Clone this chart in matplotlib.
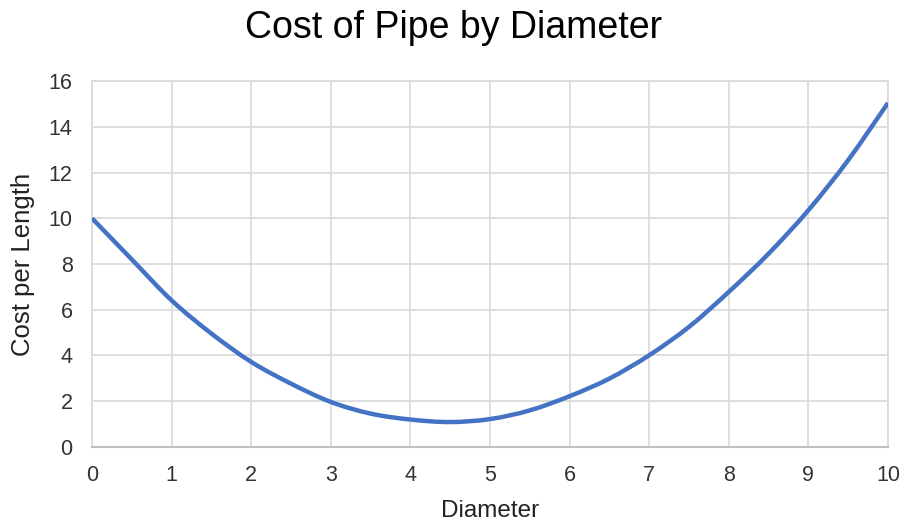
import numpy as np
import matplotlib
matplotlib.use("Agg")
import matplotlib.pyplot as plt
from matplotlib.path import Path
from matplotlib.patches import PathPatch

# values
diameter = [0, 0.5, 1, 1.5, 2, 2.5, 3, 3.5, 4, 4.5, 5,
            5.5, 6, 6.5, 7, 7.5, 8, 8.5, 9, 9.5, 10]
cost = [10.0, 8.2, 6.41, 4.96, 3.72, 2.77, 1.97, 1.46, 1.2, 1.09, 1.22,
        1.6, 2.22, 2.99, 4.01, 5.25, 6.78, 8.45, 10.35, 12.54, 15.04]
x_ticks = list(range(0, 11))
y_ticks = list(range(0, 17, 2))

plt.rcParams['font.family'] = ['Liberation Sans', 'DejaVu Sans']


def smooth_path(xs, ys):
    # cubic bezier through the points (like a "smooth line" in spreadsheets)
    p = np.column_stack([xs, ys]).astype(float)
    p = np.vstack([p[0], p, p[-1]])
    verts = [p[1]]
    codes = [Path.MOVETO]
    for i in range(1, len(p) - 2):
        c1 = p[i] + (p[i + 1] - p[i - 1]) / 6
        c2 = p[i + 1] - (p[i + 2] - p[i]) / 6
        verts += [c1, c2, p[i + 1]]
        codes += [Path.CURVE4] * 3
    return Path(verts, codes)


fig = plt.figure(figsize=(9.07, 5.25), dpi=100)
ax = fig.add_axes([0.1014, 0.1486, 0.8776, 0.6971])

ax.add_patch(PathPatch(smooth_path(diameter, cost), fill=False,
                       edgecolor="#4472c4", lw=3.2, capstyle="butt",
                       joinstyle="round", zorder=3))

ax.set_xlim(0, 10)
ax.set_ylim(0, 16)
ax.set_xticks(x_ticks)
ax.set_yticks(y_ticks)
ax.grid(True, color="#d9d9d9", lw=1.2)
ax.tick_params(length=0, labelsize=15.5, labelcolor="#333333")
ax.tick_params(axis="x", pad=13)
ax.tick_params(axis="y", pad=14)
for side in ["top", "right", "left"]:
    ax.spines[side].set_color("#d9d9d9")
    ax.spines[side].set_linewidth(1.2)
ax.spines["bottom"].set_color("#c0c0c0")
ax.spines["bottom"].set_linewidth(1.5)

ax.set_xlabel("Diameter", fontsize=17.5, color="#222222")
ax.set_ylabel("Cost per Length", fontsize=18.5, color="#222222")
ax.xaxis.set_label_coords(0.5, -0.145)
ax.yaxis.set_label_coords(-0.0715, 0.5)
fig.text(0.5, 1 - 28 / 525, "Cost of Pipe by Diameter", fontsize=27,
         ha="center", va="center")

fig.savefig("out.png", dpi=100)
